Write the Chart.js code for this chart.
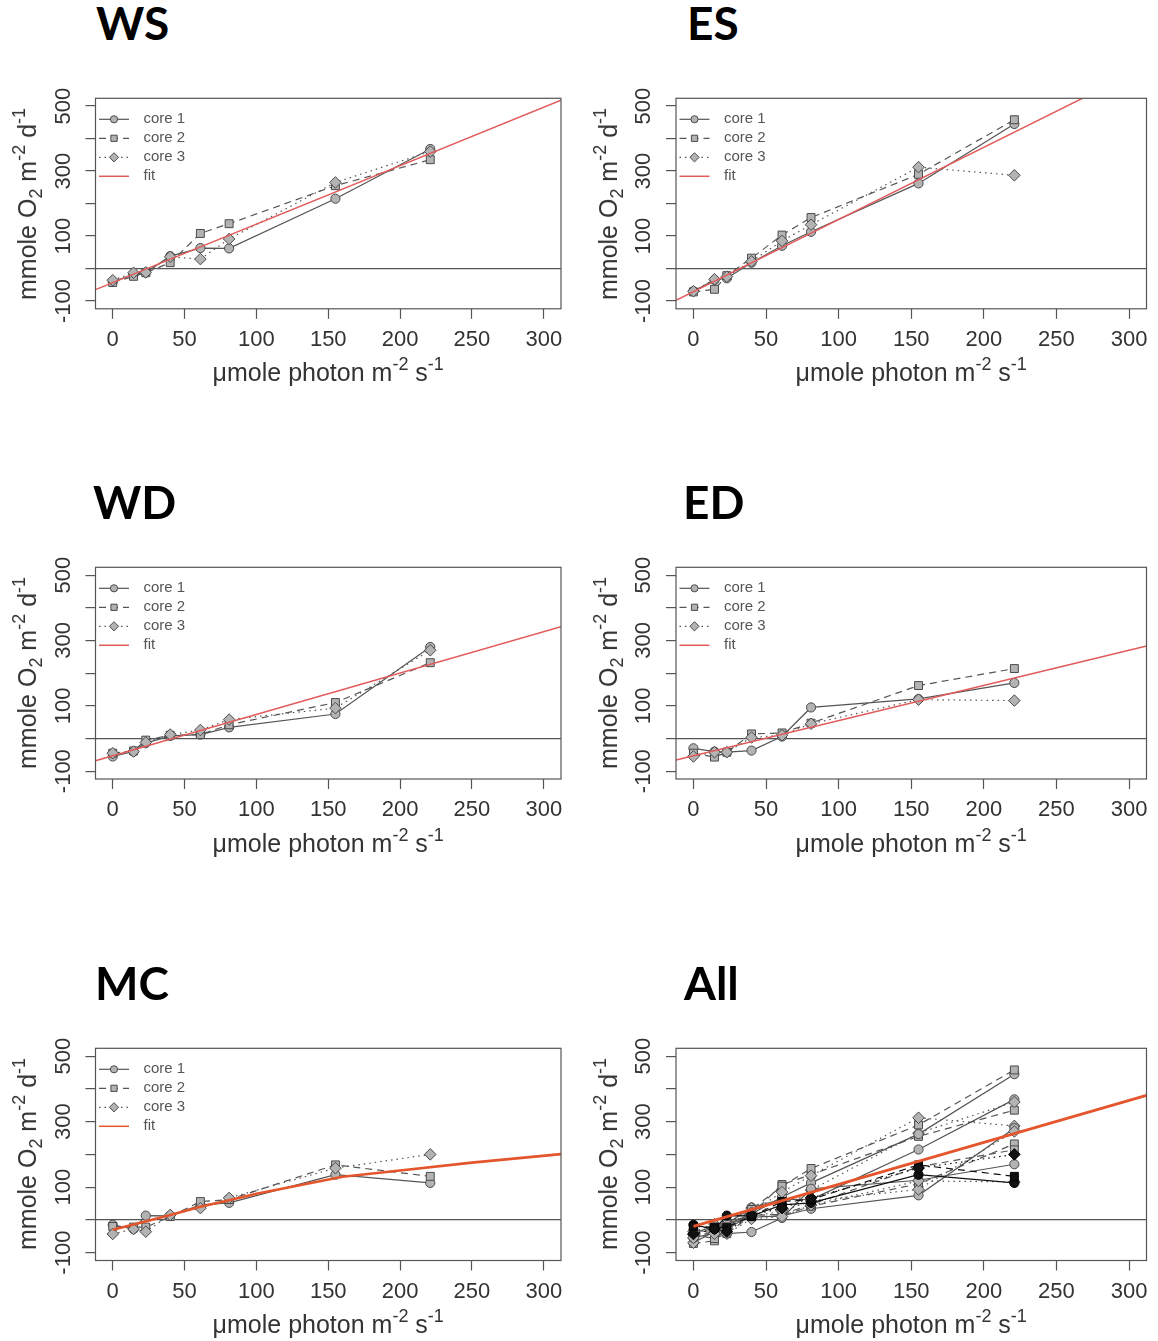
<!DOCTYPE html>
<html>
<head>
<meta charset="utf-8">
<script src="https://cdn.jsdelivr.net/npm/chart.js@4.4.1/dist/chart.umd.min.js"></script>
<style>
  html, body { margin: 0; padding: 0; background: #fff; }
  #page { position: relative; width: 1158px; height: 1341px; overflow: hidden; }
  #page canvas { position: absolute; }
  .title { position: absolute; font-family: Lato, "Open Sans", sans-serif; font-weight: 700; font-size: 46px; line-height: 46px; color: #000; }
  .xlab, .ylab { position: absolute; font-family: "Liberation Sans", Arial, sans-serif; font-size: 25px; line-height: 30px; color: #333; white-space: nowrap; }
  .xlab { width: 400px; text-align: center; }
  .ylab { transform: translate(-50%, -50%) rotate(-90deg); }
  .sup { font-size: 0.72em; vertical-align: 0.6em; line-height: 0; }
  .sub { font-size: 0.72em; vertical-align: -0.33em; line-height: 0; }
</style>
</head>
<body>
<div id="page"></div>
<script>
// ---- data ----
const lightLevels = [0, 14.5, 23, 40, 61, 81, 155, 221];
const xTicks = [0, 50, 100, 150, 200, 250, 300];
const yTicks = [-100, 0, 100, 200, 300, 400, 500];
const yTickLabels = ['-100', '', '100', '', '300', '', '500'];
const coreNames = ['core 1', 'core 2', 'core 3'];
const panelNames = ['WS', 'ES', 'WD', 'ED', 'MC', 'All'];

const wsCore1 = [-41, -18, -12, 38, 63, 62, 215, 368];
const wsCore2 = [-43, -24, -13, 18, 108, 138, 255, 335];
const wsCore3 = [-36, -13, -12, 36, 29, 91, 265, 360];
const wsFitX = [-12, 312];
const wsFitY = [-65, 518];

const esCore1 = [-70, -35, -30, 18, 70, 113, 262, 445];
const esCore2 = [-72, -64, -22, 32, 103, 157, 290, 458];
const esCore3 = [-70, -33, -25, 22, 85, 135, 312, 287];
const esFitX = [-12, 312];
const esFitY = [-98, 622];

const wdCore1 = [-55, -40, -14, 8, 12, 34, 75, 280];
const wdCore2 = [-45, -38, -5, 10, 12, 42, 110, 232];
const wdCore3 = [-45, -40, -12, 12, 26, 58, 93, 270];
const wdFitX = [-12, 312];
const wdFitY = [-68, 342];

const edCore1 = [-30, -40, -42, -37, 6, 95, 121, 170];
const edCore2 = [-45, -57, -42, 14, 17, 47, 162, 214];
const edCore3 = [-55, -42, -42, 3, 10, 45, 119, 116];
const edFitX = [-12, 312];
const edFitY = [-66, 283];

const mcCore1 = [-15, -28, 13, 12, 46, 52, 138, 113];
const mcCore2 = [-20, -22, -22, 10, 56, 62, 168, 133];
const mcCore3 = [-43, -28, -36, 15, 36, 67, 158, 200];
const mcFitX = [0, 20, 40, 61, 81, 100, 130, 160, 200, 250, 312];
const mcFitY = [-30, -8, 15, 40, 60, 80, 106, 132, 151, 175, 201];

const allFitX = [0, 312];
const allFitY = [-20, 380];

// ---- look ----
const textColor = '#333';
const axisColor = '#555';
const lineGray = '#555';
const markerFill = '#b3b3b3';
const markerEdge = '#4a4a4a';
const fitRed = '#e25b5b';
const fitOrange = '#e4552c';

Chart.defaults.font.family = '"Liberation Sans", Arial, sans-serif';

const coreStyles = [
  { dash: [], marker: 'circle', radius: 4.6, legendRadius: 3.6 },
  { dash: [7, 5], marker: 'rect', radius: 5.6, legendRadius: 4.4 },
  { dash: [1.5, 4], marker: 'rectRot', radius: 5.8, legendRadius: 4.6 }
];

// page geometry (pixels)
const layout = {
  colLeft: [0, 579],
  colWidth: 579,
  rowTop: [50, 520, 1000],
  rowHeight: [350, 350, 341],
  plotX: [[95.5, 561], [676, 1146.5]],
  plotY: [[98.3, 308.8], [567.3, 779], [1048.3, 1260.5]],
  titlePos: [[96, 0], [687, 0], [93, 479], [683, 479], [95, 960], [684, 960]],
  ylabX: [27.3, 608.3],
  xlabBelow: 48.5
};

function drawMarker(ctx, style, x, y, r) {
  ctx.beginPath();
  if (style === 'circle') {
    ctx.arc(x, y, r, 0, Math.PI * 2);
  } else if (style === 'rect') {
    const s = r * Math.SQRT1_2;
    ctx.rect(x - s, y - s, 2 * s, 2 * s);
  } else {
    ctx.moveTo(x, y - r); ctx.lineTo(x + r, y); ctx.lineTo(x, y + r); ctx.lineTo(x - r, y); ctx.closePath();
  }
  ctx.fill();
  ctx.stroke();
}

const framePlugin = {
  id: 'frame',
  afterDatasetsDraw(chart) {
    const { ctx, chartArea: a } = chart;
    ctx.save();
    ctx.strokeStyle = axisColor;
    ctx.lineWidth = 1.2;
    ctx.strokeRect(a.left, a.top, a.right - a.left, a.bottom - a.top);
    ctx.restore();
  }
};

const coreLegend = {
  id: 'coreLegend',
  afterDatasetsDraw(chart, args, opts) {
    if (!opts.items) return;
    const { ctx, chartArea: a } = chart;
    opts.items.forEach((it, k) => {
      const y = a.top + 21 + k * 19;
      ctx.save();
      ctx.strokeStyle = it.color;
      ctx.lineWidth = it.width;
      ctx.setLineDash(it.dash);
      ctx.beginPath();
      ctx.moveTo(a.left + 3.5, y);
      ctx.lineTo(a.left + 33.5, y);
      ctx.stroke();
      ctx.setLineDash([]);
      if (it.marker) {
        ctx.fillStyle = markerFill;
        ctx.strokeStyle = markerEdge;
        ctx.lineWidth = 1;
        drawMarker(ctx, it.marker, a.left + 18.5, y, it.radius);
      }
      ctx.fillStyle = '#555';
      ctx.font = '15px "Liberation Sans", Arial, sans-serif';
      ctx.textBaseline = 'middle';
      ctx.fillText(it.label, a.left + 48, y);
      ctx.restore();
    });
  }
};

function coreDataset(label, ys, c, dark) {
  const st = coreStyles[c];
  return {
    label,
    data: lightLevels.map((x, k) => ({ x, y: ys[k] })),
    borderColor: dark ? '#111' : lineGray,
    borderWidth: 1.2,
    borderDash: st.dash,
    pointStyle: st.marker,
    pointRadius: st.radius,
    pointBackgroundColor: dark ? '#111' : markerFill,
    pointBorderColor: dark ? '#000' : markerEdge,
    pointBorderWidth: 1,
    tension: 0,
    fill: false
  };
}

const sites = {
  WS: { cores: [wsCore1, wsCore2, wsCore3], fitX: wsFitX, fitY: wsFitY, fitColor: fitRed, fitWidth: 1.5 },
  ES: { cores: [esCore1, esCore2, esCore3], fitX: esFitX, fitY: esFitY, fitColor: fitRed, fitWidth: 1.5 },
  WD: { cores: [wdCore1, wdCore2, wdCore3], fitX: wdFitX, fitY: wdFitY, fitColor: fitRed, fitWidth: 1.5 },
  ED: { cores: [edCore1, edCore2, edCore3], fitX: edFitX, fitY: edFitY, fitColor: fitRed, fitWidth: 1.5 },
  MC: { cores: [mcCore1, mcCore2, mcCore3], fitX: mcFitX, fitY: mcFitY, fitColor: fitOrange, fitWidth: 2.6 },
  All: { cores: null, fitX: allFitX, fitY: allFitY, fitColor: fitOrange, fitWidth: 2.8 }
};

function buildDatasets(name) {
  const site = sites[name];
  const sets = [];
  if (name === 'All') {
    ['WS', 'ES', 'WD', 'ED', 'MC'].forEach(s => {
      sites[s].cores.forEach((ys, c) => sets.push(coreDataset(coreNames[c], ys, c, s === 'MC')));
    });
  } else {
    site.cores.forEach((ys, c) => sets.push(coreDataset(coreNames[c], ys, c, false)));
  }
  sets.push({
    label: 'fit',
    data: site.fitX.map((x, k) => ({ x, y: site.fitY[k] })),
    borderColor: site.fitColor,
    borderWidth: site.fitWidth,
    pointRadius: 0,
    tension: 0,
    fill: false
  });
  // later datasets are painted on top
  sets.forEach((d, k) => { d.order = sets.length - k; });
  return sets;
}

function legendItems(name) {
  if (name === 'All') return null;
  const site = sites[name];
  const items = coreNames.map((label, c) => ({
    label, color: lineGray, width: 1.2, dash: coreStyles[c].dash,
    marker: coreStyles[c].marker, radius: coreStyles[c].legendRadius
  }));
  items.push({ label: 'fit', color: site.fitColor, width: 1.5, dash: [], marker: null });
  return items;
}

const page = document.getElementById('page');

function addHtml(cls, html, css) {
  const el = document.createElement('div');
  el.className = cls;
  el.innerHTML = html;
  Object.assign(el.style, css);
  page.appendChild(el);
}

const yLabelHtml = 'mmole O<span class="sub">2</span> m<span class="sup">-2</span> d<span class="sup">-1</span>';
const xLabelHtml = '\u03bcmole photon m<span class="sup">-2</span> s<span class="sup">-1</span>';

panelNames.forEach((name, i) => {
  const row = Math.floor(i / 2), col = i % 2;
  const left = layout.colLeft[col], top = layout.rowTop[row];
  const w = layout.colWidth, h = layout.rowHeight[row];
  const [px0, px1] = layout.plotX[col];
  const [py0, py1] = layout.plotY[row];

  const cv = document.createElement('canvas');
  cv.width = w; cv.height = h;
  cv.style.left = left + 'px';
  cv.style.top = top + 'px';
  page.appendChild(cv);

  new Chart(cv, {
    type: 'line',
    data: { datasets: buildDatasets(name) },
    options: {
      responsive: false,
      animation: false,
      events: [],
      layout: { padding: { left: 0, right: left + w - px1, top: py0 - top, bottom: 0 } },
      plugins: {
        legend: { display: false },
        tooltip: { enabled: false },
        coreLegend: { items: legendItems(name) }
      },
      scales: {
        x: {
          type: 'linear', min: -12, max: 312,
          afterBuildTicks: s => { s.ticks = xTicks.map(v => ({ value: v })); },
          afterFit: s => { s.height = top + h - py1; },
          ticks: {
            autoSkip: false, minRotation: 0, maxRotation: 0, padding: 8,
            color: textColor, font: { size: 22 },
            callback: v => String(v)
          },
          grid: { drawOnChartArea: false, drawTicks: true, tickLength: 10, tickColor: axisColor, tickWidth: 1.2 },
          border: { display: false }
        },
        y: {
          type: 'linear', min: -124, max: 524,
          afterBuildTicks: s => { s.ticks = yTicks.map(v => ({ value: v })); },
          afterFit: s => { s.width = px0 - left; },
          ticks: {
            autoSkip: false, minRotation: 90, maxRotation: 90, crossAlign: 'center', padding: 0,
            color: textColor, font: { size: 22 },
            callback: v => yTickLabels[yTicks.indexOf(v)]
          },
          grid: {
            drawOnChartArea: true, drawTicks: true, tickLength: 10,
            color: ctx => (ctx.tick && ctx.tick.value === 0) ? axisColor : 'rgba(0,0,0,0)',
            lineWidth: 1.2, tickColor: axisColor, tickWidth: 1.2
          },
          border: { display: false }
        }
      }
    },
    plugins: [framePlugin, coreLegend]
  });

  const [tx, ty] = layout.titlePos[i];
  addHtml('title', name, { left: tx + 'px', top: ty + 'px' });
  addHtml('ylab', yLabelHtml, { left: layout.ylabX[col] + 'px', top: ((py0 + py1) / 2) + 'px' });
  addHtml('xlab', xLabelHtml, { left: ((px0 + px1) / 2 - 200) + 'px', top: (py1 + layout.xlabBelow) + 'px' });
});
</script>
</body>
</html>
